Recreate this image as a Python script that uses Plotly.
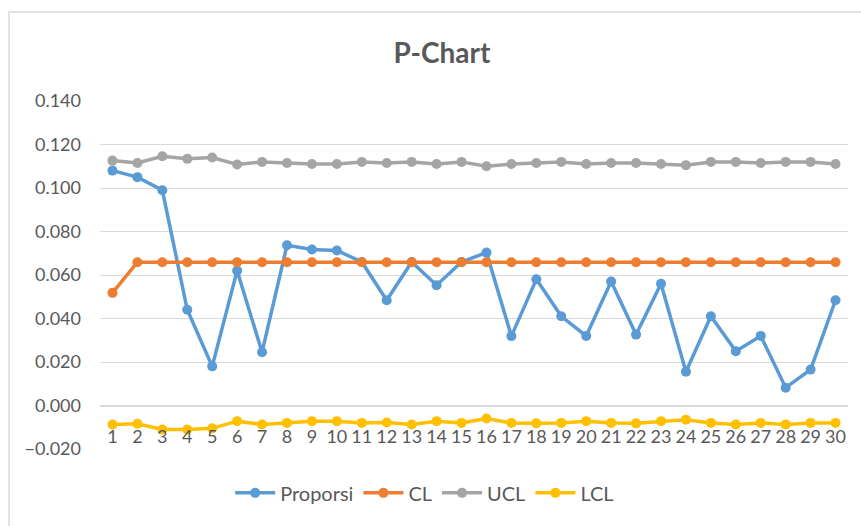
import plotly.graph_objects as go

samples = [str(i) for i in range(1, 31)]

proporsi = [0.108, 0.105, 0.099, 0.044, 0.018, 0.062, 0.0245, 0.0737, 0.0717, 0.0713,
            0.066, 0.0484, 0.066, 0.0553, 0.066, 0.0703, 0.0319, 0.058, 0.041, 0.032,
            0.057, 0.0326, 0.056, 0.0155, 0.041, 0.025, 0.032, 0.0082, 0.0165, 0.0484]

cl = [0.0518] + [0.0659] * 29

ucl = [0.1126, 0.1115, 0.1146, 0.1134, 0.1140, 0.1108, 0.1120, 0.1115, 0.1110, 0.1110,
       0.1120, 0.1115, 0.1120, 0.1110, 0.1120, 0.1100, 0.1110, 0.1115, 0.1120, 0.1110,
       0.1115, 0.1115, 0.1110, 0.1105, 0.1120, 0.1120, 0.1115, 0.1120, 0.1120, 0.1110]

lcl = [-0.0087, -0.0084, -0.0110, -0.0110, -0.0105, -0.0072, -0.0087, -0.0080, -0.0072, -0.0072,
       -0.0080, -0.0078, -0.0087, -0.0072, -0.0080, -0.0060, -0.0080, -0.0082, -0.0080, -0.0072,
       -0.0080, -0.0082, -0.0072, -0.0065, -0.0080, -0.0087, -0.0080, -0.0087, -0.0080, -0.0080]

series = [
    ("Proporsi", proporsi, "#5B9BD5"),
    ("CL", cl, "#ED7D31"),
    ("UCL", ucl, "#A5A5A5"),
    ("LCL", lcl, "#FFC000"),
]

y_min, y_max = -0.02, 0.14

fig = go.Figure()
for name, vals, color in series:
    fig.add_trace(go.Scatter(
        x=samples, y=vals, name=name, mode="lines+markers",
        line=dict(color=color, width=3.5),
        marker=dict(color=color, size=10, symbol="circle"),
    ))

font_family = "Lato, 'Open Sans', sans-serif"

fig.update_layout(
    width=861, height=526,
    margin=dict(l=100, r=13, t=101, b=77, autoexpand=False),
    paper_bgcolor="white", plot_bgcolor="white",
    title=dict(text="<b>P-Chart</b>", x=442 / 861, xanchor="center", y=1 - 53 / 526, yanchor="middle",
               font=dict(family=font_family, size=28, color="#595959")),
    font=dict(family=font_family, size=18, color="#595959"),
    showlegend=True,
    legend=dict(orientation="h", x=0.434, xanchor="center", y=-0.126, yanchor="middle",
                font=dict(size=20, color="#595959"), traceorder="normal", itemwidth=40),
    xaxis=dict(
        type="category", range=[-0.5, len(samples) - 0.5], autorange=False,
        showgrid=False, showline=True, linecolor="#d9d9d9", linewidth=1,
        ticks="", tickangle=0, tickfont=dict(size=18, color="#595959"), automargin=False,
        anchor="free", position=(0 - y_min) / (y_max - y_min), ticklabelstandoff=15,
    ),
    yaxis=dict(
        range=[y_min, y_max], dtick=0.02, tickformat=".3f", automargin=False,
        showgrid=True, gridcolor="#d9d9d9", gridwidth=1, zeroline=False,
        tickfont=dict(size=18, color="#595959"), ticklabelstandoff=18,
    ),
    shapes=[dict(type="rect", xref="paper", yref="paper",
                 x0=(9 - 100) / 748, x1=(875 - 100) / 748,
                 y0=(449 - 540) / 348, y1=(449 - 12) / 348,
                 line=dict(color="#d9d9d9", width=1.5), fillcolor="rgba(0,0,0,0)", layer="below")],
)

fig.write_html("out.html", config={"displayModeBar": False},
               post_script="document.body.style.margin='0';")
